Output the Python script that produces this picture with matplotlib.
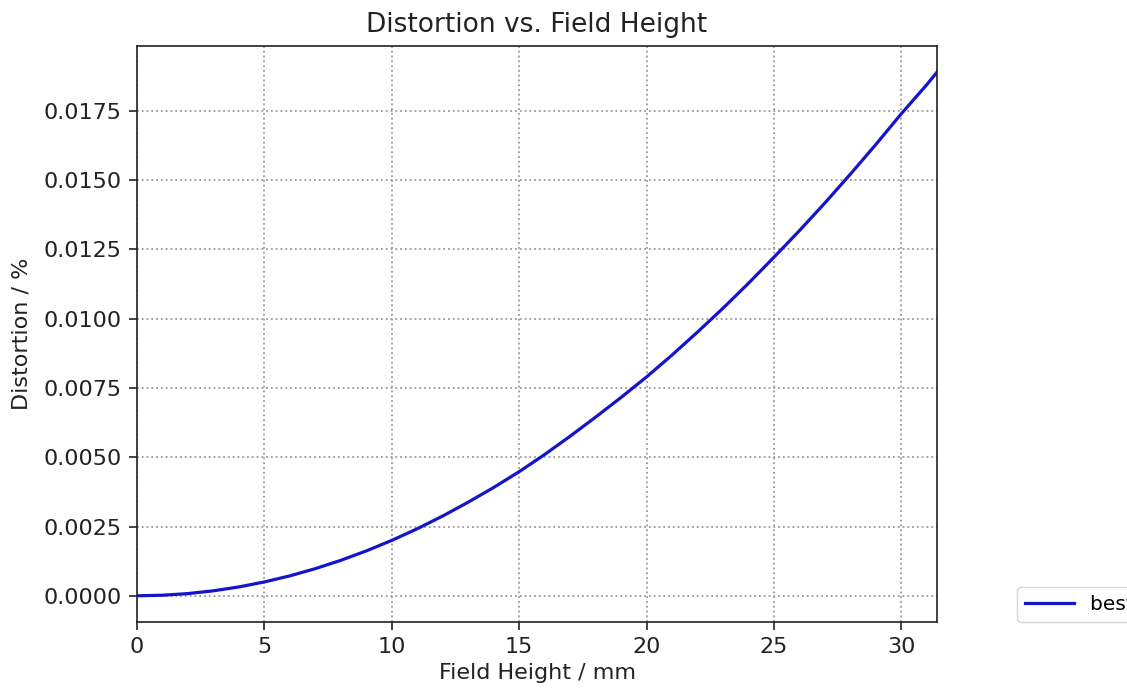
import numpy as np
import matplotlib
matplotlib.use('Agg')
import matplotlib.pyplot as plt

# Field height (mm) and distortion (%)
field_height = [0, 1, 2, 3, 4, 5, 6, 7, 8, 9, 10, 11, 12, 13, 14, 15, 16,
                17, 18, 19, 20, 21, 22, 23, 24, 25, 26, 27, 28, 29, 30, 31, 31.4]
distortion = [0.0, 0.00002, 0.00008, 0.00018, 0.00032, 0.0005, 0.00072, 0.00098,
              0.00128, 0.00162, 0.0020, 0.00242, 0.00288, 0.00338, 0.00391, 0.00448,
              0.0051, 0.00576, 0.00645, 0.00716, 0.0079, 0.00869, 0.00952, 0.01038,
              0.01128, 0.01222, 0.01318, 0.01418, 0.01522, 0.01629, 0.0174, 0.01845,
              0.0189]
x_ticks = [0, 5, 10, 15, 20, 25, 30]
y_ticks = [0.0, 0.0025, 0.005, 0.0075, 0.01, 0.0125, 0.015, 0.0175]
series_label = 'best fit'

fig = plt.figure(figsize=(11.27, 6.93), dpi=100)
ax = fig.add_axes([0.1216, 0.1025, 0.7098, 0.8311])

ax.plot(field_height, distortion, color='#1414cc', linewidth=2.3, label=series_label)

ax.set_xlim(0, max(field_height))
span = max(distortion) - min(distortion)
ax.set_ylim(min(distortion) - 0.05 * span, max(distortion) + 0.05 * span)
ax.set_xticks(x_ticks)
ax.set_yticks(y_ticks)
ax.set_yticklabels([f'{v:.4f}' for v in y_ticks])
ax.tick_params(axis='both', labelsize=16, length=5.5, width=1.2, pad=5.5,
               colors='#222222')
for spine in ax.spines.values():
    spine.set_linewidth(1.2)
    spine.set_color('#222222')

ax.grid(True, linestyle=':', color='#999999', linewidth=1.3)
ax.set_title('Distortion vs. Field Height', fontsize=19, color='#222222', pad=10)
ax.set_xlabel('Field Height / mm', fontsize=16, color='#222222', labelpad=4)
ax.set_ylabel('Distortion / %', fontsize=16, color='#222222', labelpad=9)

ax.legend(loc='lower left', bbox_to_anchor=(1.1, 0.0), borderaxespad=0,
          fontsize=14.5, handlelength=2.45)

fig.savefig('out.png', dpi=100)
